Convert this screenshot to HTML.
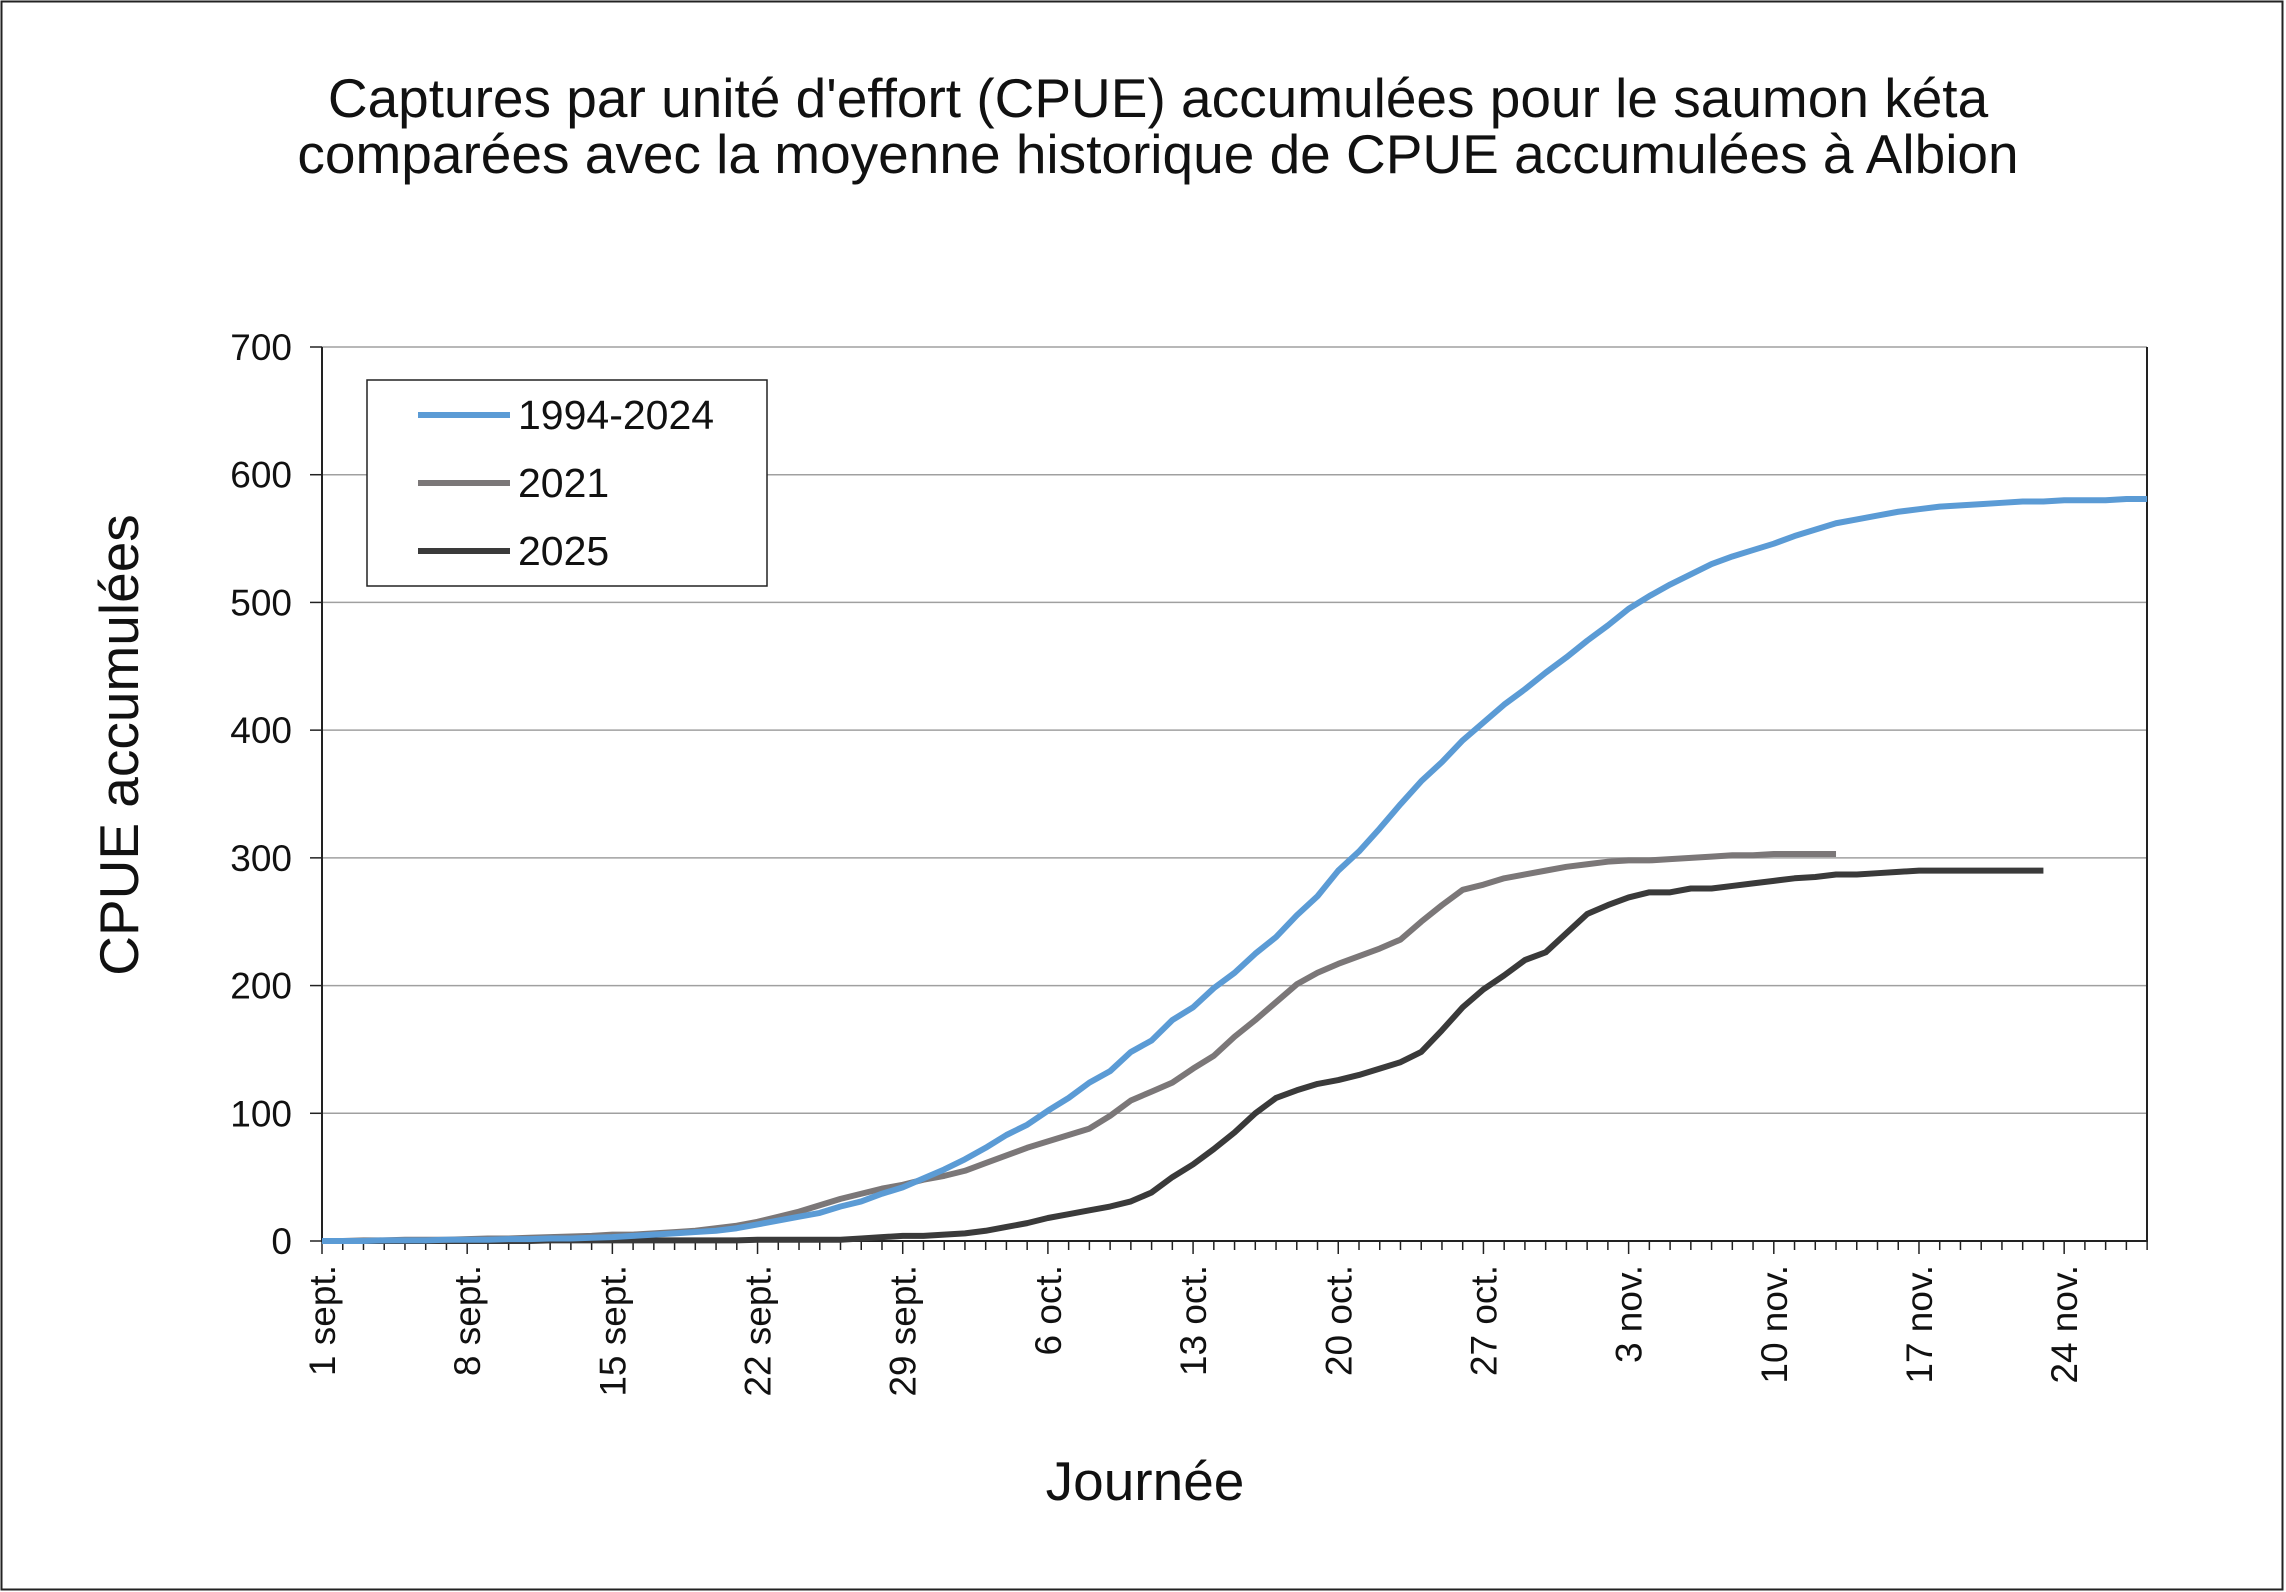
<!DOCTYPE html>
<html><head><meta charset="utf-8"><style>
html,body{margin:0;padding:0;background:#fff}
svg{display:block;font-family:"Liberation Sans",Arial,sans-serif}
</style></head><body>
<svg id="c" width="2286" height="1592" viewBox="0 0 2286 1592">
<rect x="1.5" y="1.5" width="2281" height="1588" fill="#fff" stroke="#222" stroke-width="2"/>
<text x="1158" y="117" font-size="55" text-anchor="middle" fill="#111">Captures par unité d'effort (CPUE) accumulées pour le saumon kéta</text>
<text x="1158" y="173" font-size="55" text-anchor="middle" fill="#111">comparées avec la moyenne historique de CPUE accumulées à Albion</text>
<g id="grid"></g>
<g id="axes"></g>
<g id="series"></g>
<text transform="translate(138,745) rotate(-90)" font-size="55" text-anchor="middle" fill="#111">CPUE accumulées</text>
<text x="1145" y="1500" font-size="55" text-anchor="middle" fill="#111">Journée</text>
<g>
<rect x="367" y="380" width="400" height="206" fill="#fff" stroke="#222" stroke-width="1.5"/>
<line x1="418" y1="415" x2="510" y2="415" stroke="#5b9bd5" stroke-width="6"/>
<text x="518" y="429" font-size="41" fill="#111">1994-2024</text>
<line x1="418" y1="483" x2="510" y2="483" stroke="#7b7778" stroke-width="6"/>
<text x="518" y="497" font-size="41" fill="#111">2021</text>
<line x1="418" y1="551" x2="510" y2="551" stroke="#3a3a3a" stroke-width="6"/>
<text x="518" y="565" font-size="41" fill="#111">2025</text>
</g>
</svg>
<script>
const yTicks=[0,100,200,300,400,500,600,700];
const xTickDays=[0,7,14,21,28,35,42,49,56,63,70,77,84];
const xTickLabels=["1 sept.","8 sept.","15 sept.","22 sept.","29 sept.","6 oct.","13 oct.","20 oct.","27 oct.","3 nov.","10 nov.","17 nov.","24 nov."];
const hist=[0,0,0,0.5,0.5,0.5,1,1,1,1.5,1.5,2,2,2.5,3,4,5,6,7,8,10,13,16,19,22,27,31,37,42,49,56,64,73,83,91,102,112,124,133,148,157,173,183,198,210,225,238,255,270,290,305,323,342,360,375,392,406,420,432,445,457,470,482,495,505,514,522,530,536,541,546,552,557,562,565,568,571,573,575,576,577,578,579,579,580,580,580,581,581];
const y2021=[0,0,0.5,0.5,1,1,1,1.5,2,2,2.5,3,3.5,4,5,5,6,7,8,10,12,15,19,23,28,33,37,41,44,48,51,55,61,67,73,78,83,88,98,110,117,124,135,145,160,173,187,201,210,217,223,229,236,250,263,275,279,284,287,290,293,295,297,298,298,299,300,301,302,302,303,303,303,303];
const y2025=[0,0,0,0,0,0,0,0,0,0,0,0.5,0.5,0.5,0.5,0.5,0.5,0.5,0.5,0.5,0.5,1,1,1,1,1,2,3,4,4,5,6,8,11,14,18,21,24,27,31,38,50,60,72,85,100,112,118,123,126,130,135,140,148,165,183,197,208,220,226,241,256,263,269,273,273,276,276,278,280,282,284,285,287,287,288,289,290,290,290,290,290,290,290];
const X0=322,DX=20.74,Y0=1241,YS=894/700,XR=2147,YT=347;
const xs=d=>X0+d*DX, ys=v=>Y0-v*YS;
const NS="http://www.w3.org/2000/svg";
function mk(t,a,p){const e=document.createElementNS(NS,t);for(const k in a)e.setAttribute(k,a[k]);p.appendChild(e);return e;}
const grid=document.getElementById('grid'),axes=document.getElementById('axes'),ser=document.getElementById('series');
yTicks.forEach((v,i)=>{
 if(v>0){const g=mk('line',{x1:X0,x2:XR,y1:ys(v),y2:ys(v),stroke:'#a0a0a0','stroke-width':1.5},grid);
 
 }
 const t=mk('line',{x1:X0-12,x2:X0,y1:ys(v),y2:ys(v),stroke:'#222','stroke-width':1.5},axes);
 
 
 const l=mk('text',{x:X0-30,y:ys(v)+13,'font-size':37,'text-anchor':'end',fill:'#111'},axes);l.textContent=v;
 
 
});
const ax=mk('path',{d:`M${X0},${YT}V${Y0}H${XR}V${YT}`,fill:'none',stroke:'#222','stroke-width':2},axes);


for(let d=0;d<=88;d++){
 const major=xTickDays.includes(d);
 const t=mk('line',{x1:xs(d),x2:xs(d),y1:Y0,y2:Y0+(major?13:9),stroke:'#222','stroke-width':1.5},axes);
 
 
}
xTickDays.forEach((d,i)=>{
 const l=mk('text',{transform:`translate(${xs(d)+13},${Y0+24}) rotate(-90)`,'font-size':37,'text-anchor':'end',fill:'#111'},axes);
 l.textContent=xTickLabels[i];
 
 
});
function line(arr,col,name){
 const p=mk('polyline',{points:arr.map((v,i)=>xs(i)+','+ys(v)).join(' '),fill:'none',stroke:col,'stroke-width':6,'stroke-linejoin':'round'},ser);
 
 
}
line(y2025,'#3a3a3a','series-2025');
line(y2021,'#7b7778','series-2021');
line(hist,'#5b9bd5','series-1994-2024');
</script>
</body></html>
